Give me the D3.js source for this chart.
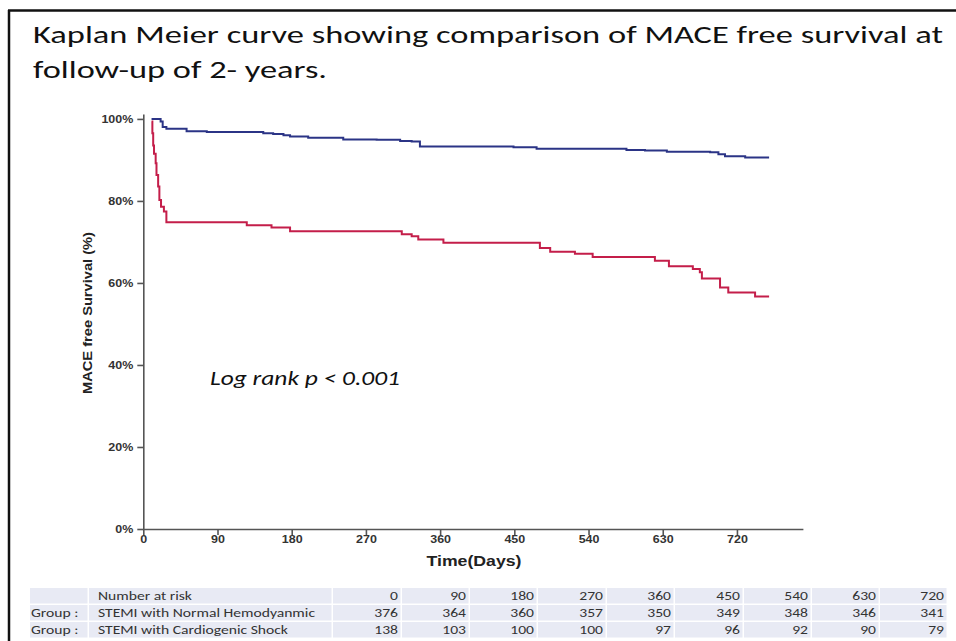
<!DOCTYPE html>
<html><head><meta charset="utf-8">
<script src="https://cdn.jsdelivr.net/npm/d3@7"></script>
<style>
html,body{margin:0;padding:0;background:#fff;}
svg{display:block;}
</style></head>
<body>
<svg id="c" width="956" height="641"></svg>
<script>
// ---- data ----
const titleLines = ["Kaplan Meier curve showing comparison of MACE free survival at", "follow-up of 2- years."];
const xTicks = [0, 90, 180, 270, 360, 450, 540, 630, 720];
const yTicks = [0, 20, 40, 60, 80, 100];
const normalDays = [10, 21, 23.5, 28, 52.5, 77, 145.5, 157.5, 170, 178, 200, 242.5, 283, 311.5, 325.5, 335.5, 449, 477, 586, 608.5, 635, 687.5, 697.5, 705.5, 730, 759];
const normalSurv = [100, 99.4, 98.0, 97.6, 97.0, 96.8, 96.5, 96.3, 96.0, 95.7, 95.4, 95.0, 94.9, 94.6, 94.5, 93.3, 93.1, 92.7, 92.4, 92.3, 92.0, 91.9, 91.4, 90.9, 90.6, 90.6];
const shockDays = [10, 11, 12, 13, 15, 16, 18, 19.5, 21.5, 25, 28, 125.5, 155.5, 178, 313.5, 325.5, 333.5, 364, 481, 493.5, 523.5, 545, 620.5, 637.5, 666.5, 675, 677.5, 699.5, 709.5, 742, 759];
const shockSurv = [99.4, 96.5, 93.5, 91.5, 89.2, 86.3, 83.5, 80.2, 78.6, 77.4, 74.8, 74.1, 73.5, 72.6, 71.9, 71.4, 70.6, 69.8, 68.5, 67.6, 67.1, 66.3, 65.4, 64.1, 63.4, 62.6, 61.1, 58.9, 57.7, 56.7, 56.7];
const riskTimes = [0, 90, 180, 270, 360, 450, 540, 630, 720];
const riskNormal = [376, 364, 360, 357, 350, 349, 348, 346, 341];
const riskShock = [138, 103, 100, 100, 97, 96, 92, 90, 79];
const groupNames = ["STEMI with Normal Hemodyanmic", "STEMI with Cardiogenic Shock"];

// ---- drawing ----
const svg = d3.select("#c");
const SX = 1.25; // horizontal stretch of the source picture's text
// frame
svg.append("line").attr("x1", 8).attr("x2", 956).attr("y1", 10.5).attr("y2", 10.5).attr("stroke", "#111").attr("stroke-width", 2.5);
svg.append("line").attr("x1", 9).attr("x2", 9).attr("y1", 10).attr("y2", 641).attr("stroke", "#111").attr("stroke-width", 2.5);

// title
const tfont = "Carlito, Calibri, 'Open Sans', 'Noto Sans', sans-serif";
svg.append("text").attr("x", 33).attr("y", 43).attr("font-family", tfont).attr("font-size", 25).attr("fill", "#111")
  .attr("textLength", 910).attr("lengthAdjust", "spacingAndGlyphs").text(titleLines[0]);
svg.append("text").attr("x", 33).attr("y", 78).attr("font-family", tfont).attr("font-size", 25).attr("fill", "#111")
  .attr("textLength", 294).attr("lengthAdjust", "spacingAndGlyphs").text(titleLines[1]);

const x = d3.scaleLinear().domain([0, 800]).range([143.3, 802.9]);
const y = d3.scaleLinear().domain([0, 101.2]).range([529, 114]);

const axisColor = "#555";
const gx = svg.append("g").attr("transform", "translate(0,529)")
  .call(d3.axisBottom(x).tickValues(xTicks).tickSize(6).tickSizeOuter(0).tickFormat(d3.format("d")));
const gy = svg.append("g").attr("transform", "translate(143.3,0)")
  .call(d3.axisLeft(y).tickValues(yTicks).tickSize(6).tickSizeOuter(0).tickFormat(d => d + "%"));
[gx, gy].forEach(g => {
  g.select(".domain").attr("stroke", axisColor).attr("stroke-width", 1.6);
  g.selectAll(".tick line").attr("stroke", axisColor).attr("stroke-width", 1.6);
  g.selectAll(".tick text").attr("fill", "#333").attr("font-family", "'Liberation Sans', Arial, sans-serif")
    .attr("font-weight", "bold").attr("font-size", 10);
});
gx.selectAll(".tick text").attr("y", 7).attr("dy", "0.71em").attr("transform", `scale(${SX},1)`);
gy.selectAll(".tick text").attr("x", -10 / SX).attr("transform", `scale(${SX},1)`);

// axis titles
svg.append("text").attr("x", 474).attr("y", 566).attr("text-anchor", "middle")
  .attr("font-family", "'Liberation Sans', Arial, sans-serif").attr("font-weight", "bold").attr("font-size", 15).attr("fill", "#222")
  .attr("textLength", 95).attr("lengthAdjust", "spacingAndGlyphs")
  .text("Time(Days)");
svg.append("text").attr("transform", "translate(92,313) rotate(-90)").attr("text-anchor", "middle")
  .attr("font-family", "'Liberation Sans', Arial, sans-serif").attr("font-weight", "bold").attr("font-size", 13.5).attr("fill", "#222")
  .attr("textLength", 162).attr("lengthAdjust", "spacingAndGlyphs")
  .text("MACE free Survival (%)");

// curves
const line = d3.line().x(d => x(d[0])).y(d => y(d[1])).curve(d3.curveStepAfter);
const normalData = normalDays.map((d, i) => [d, normalSurv[i]]);
const shockData = shockDays.map((d, i) => [d, shockSurv[i]]);
svg.append("path").attr("d", line(normalData)).attr("fill", "none").attr("stroke", "#2b3486").attr("stroke-width", 2);
svg.append("path").attr("d", line(shockData)).attr("fill", "none").attr("stroke", "#c41e4a").attr("stroke-width", 2);

// annotation
svg.append("text").attr("x", 210).attr("y", 385).attr("font-family", tfont).attr("font-style", "italic")
  .attr("font-size", 20).attr("fill", "#111").attr("textLength", 190).attr("lengthAdjust", "spacingAndGlyphs")
  .text("Log rank p < 0.001");

// number at risk table
const colEdges = [30, 89, 333, 402, 470, 538, 607, 675, 744, 812, 880, 948];
const rowTops = [588, 605, 622];
const rowH = 15.5;
const cellFill = "#e8eaf4";
const tblFont = "Carlito, Calibri, 'Open Sans', 'Noto Sans', sans-serif";
const tbl = svg.append("g");
rowTops.forEach(rt => {
  for (let c = 0; c < colEdges.length - 1; c++) {
    tbl.append("rect").attr("x", colEdges[c]).attr("y", rt).attr("width", colEdges[c + 1] - colEdges[c] - 1.5)
      .attr("height", rowH).attr("fill", cellFill);
  }
});
const rows = [
  ["", "Number at risk"].concat(riskTimes.map(String)),
  ["Group :", groupNames[0]].concat(riskNormal.map(String)),
  ["Group :", groupNames[1]].concat(riskShock.map(String))
];
rows.forEach((r, ri) => {
  r.forEach((txt, ci) => {
    if (!txt) return;
    const isNum = ci >= 2;
    const tx = isNum ? colEdges[ci + 1] - 4 : colEdges[ci] + (ci === 0 ? 1 : 9);
    tbl.append("text")
      .attr("transform", `translate(${tx},${rowTops[ri] + 12}) scale(${SX},1)`)
      .attr("text-anchor", isNum ? "end" : "start")
      .attr("font-family", tblFont).attr("font-size", 12.5).attr("fill", "#333")
      .text(txt);
  });
});
</script>
</body></html>
